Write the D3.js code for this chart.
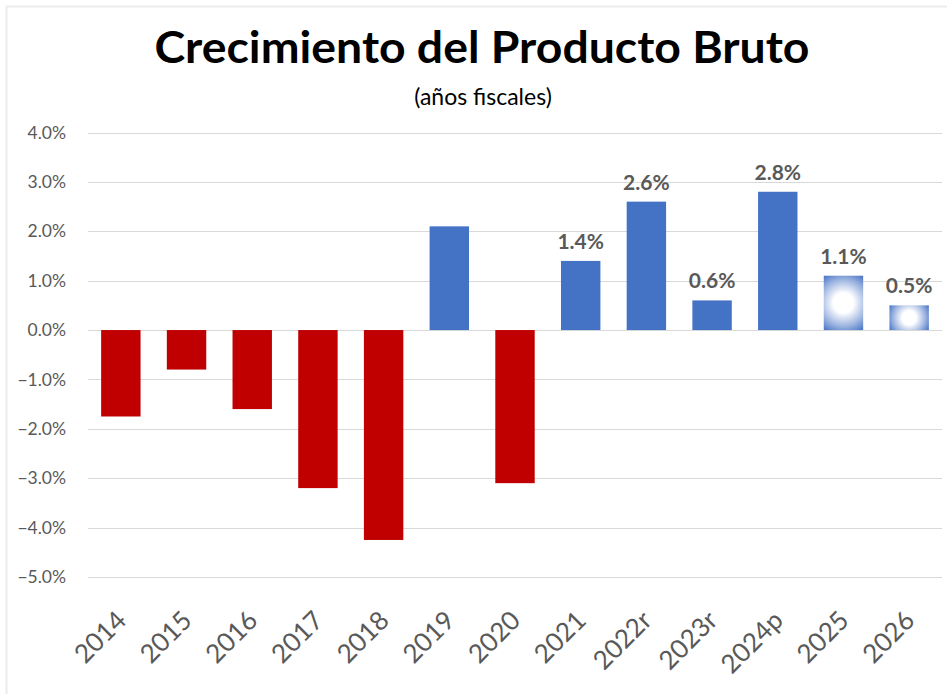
<!DOCTYPE html>
<html>
<head>
<meta charset="utf-8">
<script src="https://cdn.jsdelivr.net/npm/d3@7"></script>
<style>
  html, body { margin: 0; padding: 0; background: #fff; }
  svg { display: block; }
  text { font-family: Lato, "Open Sans", "DejaVu Sans", sans-serif; }
</style>
</head>
<body>
<svg id="chart" width="947" height="694"></svg>
<script>
// ---- data ----
const categories = ["2014","2015","2016","2017","2018","2019","2020","2021","2022r","2023r","2024p","2025","2026"];
const values = [-1.75, -0.8, -1.6, -3.2, -4.25, 2.1, -3.1, 1.4, 2.6, 0.6, 2.8, 1.1, 0.5];
const dataLabels = ["", "", "", "", "", "", "", "1.4%", "2.6%", "0.6%", "2.8%", "1.1%", "0.5%"];
const projected = ["2025", "2026"];
const yTicks = [-5, -4, -3, -2, -1, 0, 1, 2, 3, 4];
const titleText = "Crecimiento del Producto Bruto";
const subtitleText = "(años fiscales)";

// ---- layout ----
const W = 947, H = 694;
const plot = { left: 88, right: 942, top: 132.5, bottom: 577 };
const svg = d3.select("#chart");

svg.append("rect").attr("width", W).attr("height", H).attr("fill", "#fff");
// faint outer border (top and left visible)
svg.append("path").attr("d", `M6.5,${H} V6.5 H${W}`).attr("fill", "none").attr("stroke", "#ececec").attr("stroke-width", 2);

const x = d3.scaleBand().domain(categories).range([plot.left, plot.right]).paddingInner(0.4).paddingOuter(0.2);
const y = d3.scaleLinear().domain([-5, 4]).range([plot.bottom, plot.top]);

const data = categories.map((c, i) => ({ c, v: values[i], label: dataLabels[i], i }));

// per-bar circular gradients for projected bars
const defs = svg.append("defs");
data.filter(d => projected.includes(d.c)).forEach(d => {
  const bx = x(d.c), bw = x.bandwidth();
  const by = y(Math.max(0, d.v)), bh = Math.abs(y(d.v) - y(0));
  const r = Math.sqrt((bw / 2) ** 2 + (bh / 2) ** 2);
  const g = defs.append("radialGradient").attr("id", "proj" + d.i)
    .attr("gradientUnits", "userSpaceOnUse")
    .attr("cx", bx + bw / 2).attr("cy", by + bh / 2).attr("r", r);
  g.append("stop").attr("offset", "0%").attr("stop-color", "#ffffff");
  g.append("stop").attr("offset", "30%").attr("stop-color", "#ffffff");
  g.append("stop").attr("offset", "70%").attr("stop-color", "#9bb3e0");
  g.append("stop").attr("offset", "100%").attr("stop-color", "#4472C4");
});

// gridlines
svg.append("g")
  .selectAll("line").data(yTicks).join("line")
  .attr("x1", plot.left).attr("x2", plot.right)
  .attr("y1", d => Math.round(y(d)) + 0.5).attr("y2", d => Math.round(y(d)) + 0.5)
  .attr("stroke", "#d9d9d9").attr("stroke-width", 1);

// y axis labels
const yAxis = d3.axisLeft(y).tickValues(yTicks).tickSize(0).tickPadding(0)
  .tickFormat(d => d3.format(".1f")(d) + "%");
const gy = svg.append("g").attr("transform", `translate(66,0)`).call(yAxis);
gy.select(".domain").remove();
gy.selectAll("text").attr("fill", "#595959").attr("font-size", 17.5).attr("font-family", "Lato, 'Open Sans', sans-serif");

// bars
svg.append("g").selectAll("rect").data(data).join("rect")
  .attr("x", d => x(d.c))
  .attr("width", x.bandwidth())
  .attr("y", d => y(Math.max(0, d.v)))
  .attr("height", d => Math.abs(y(d.v) - y(0)))
  .attr("fill", d => projected.includes(d.c) ? `url(#proj${d.i})` : (d.v < 0 ? "#C00000" : "#4472C4"));

// data labels
svg.append("g").selectAll("text").data(data.filter(d => d.label)).join("text")
  .attr("x", d => x(d.c) + x.bandwidth() / 2)
  .attr("y", d => y(d.v) - 12)
  .attr("text-anchor", "middle")
  .attr("font-size", 21).attr("font-weight", 700)
  .attr("fill", "#595959")
  .text(d => d.label);

// x axis labels (rotated)
const xAxis = d3.axisBottom(x).tickSize(0).tickPadding(0);
const gx = svg.append("g").attr("transform", `translate(0,${plot.bottom})`).call(xAxis);
gx.select(".domain").remove();
gx.selectAll(".tick text")
  .attr("font-size", 26).attr("fill", "#595959")
  .attr("font-family", "Lato, 'Open Sans', sans-serif")
  .attr("text-anchor", "end")
  .attr("dy", 0).attr("y", 0)
  .attr("transform", "translate(7,45) rotate(-45)");

// title
svg.append("text")
  .attr("x", 482).attr("y", 63)
  .attr("text-anchor", "middle")
  .attr("font-size", 44).attr("font-weight", 700)
  .attr("fill", "#000")
  .attr("textLength", 655).attr("lengthAdjust", "spacingAndGlyphs")
  .text(titleText);

svg.append("text")
  .attr("x", 483).attr("y", 105)
  .attr("text-anchor", "middle")
  .attr("font-size", 23)
  .attr("fill", "#000")
  .text(subtitleText);
</script>
</body>
</html>
